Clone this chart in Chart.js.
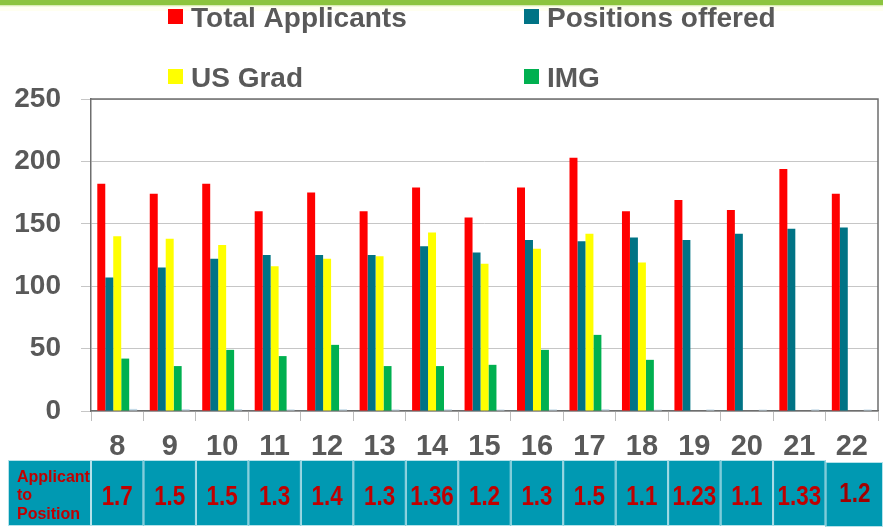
<!DOCTYPE html>
<html lang="en">
<head>
  <meta charset="UTF-8" />
  <title>Applicants vs Positions</title>
  <script src="https://cdn.jsdelivr.net/npm/chart.js"></script>
  <style>
    body {
      margin: 0;
      width: 883px;
      height: 527px;
      overflow: hidden;
      background: linear-gradient(to bottom, #8cc43e 0, #8cc43e 5px, #cde6a0 5px, #fffff0 7px, #fffff0 11px, #ffffff 11px);
    }
    canvas { display: block; }
  </style>
</head>
<body>
  <canvas id="matchChart" width="883" height="527"></canvas>

  <script>
    const categories = ['8', '9', '10', '11', '12', '13', '14', '15', '16', '17', '18', '19', '20', '21', '22'];
    const totalApplicants = [182, 174, 182, 160, 175, 160, 179, 155, 179, 203, 160, 169, 161, 194, 174];
    const positionsOffered = [107, 115, 122, 125, 125, 125, 132, 127, 137, 136, 139, 137, 142, 146, 147];
    const usGrad = [140, 138, 133, 116, 122, 124, 143, 118, 130, 142, 119, null, null, null, null];
    const img = [42, 36, 49, 44, 53, 36, 36, 37, 49, 61, 41, null, null, null, null];
    const ratio = [1.7, 1.5, 1.5, 1.3, 1.4, 1.3, 1.36, 1.2, 1.3, 1.5, 1.1, 1.23, 1.1, 1.33, 1.2];
    const ratioLabels = ['1.7', '1.5', '1.5', '1.3', '1.4', '1.3', '1.36', '1.2', '1.3', '1.5', '1.1', '1.23', '1.1', '1.33', '1.2'];
    const yTicks = [0, 50, 100, 150, 200, 250];

    const textGrey = '#595959';
    const fontFamily = '"Liberation Sans", Arial, sans-serif';

    // legend in two rows of two, drawn above the plot
    const legendPlugin = {
      id: 'gridLegend',
      afterDraw(chart) {
        const c = chart.ctx;
        const cols = [168, 524];
        const rows = [17, 77];
        let n = 0;
        chart.data.datasets.forEach(ds => {
          if (ds.inLegend === false) return;
          const x = cols[n % 2];
          const y = rows[Math.floor(n / 2)];
          c.save();
          c.fillStyle = ds.backgroundColor;
          c.fillRect(x, y - 8, 15, 15);
          c.fillStyle = textGrey;
          c.font = 'bold 28px ' + fontFamily;
          c.textBaseline = 'alphabetic';
          c.fillText(ds.label, x + 23, y + 10);
          c.restore();
          n++;
        });
      }
    };

    // border on top and right of the plot, plus the ratio table underneath
    const tablePlugin = {
      id: 'ratioTable',
      afterDraw(chart) {
        const c = chart.ctx;
        const area = chart.chartArea;
        const xs = chart.scales.x;
        c.save();
        c.strokeStyle = '#6e6e6e';
        c.lineWidth = 1.5;
        c.beginPath();
        c.moveTo(area.left, area.top);
        c.lineTo(area.right, area.top);
        c.lineTo(area.right, area.bottom);
        c.stroke();

        const top = 460, bottom = 526;
        const step = (area.right - area.left) / categories.length;
        const teal = '#0099b2';
        const edge = '#b5e2ea';

        // label cell
        c.fillStyle = teal;
        c.fillRect(8, top, area.left - 8, bottom - top);
        c.strokeStyle = edge;
        c.lineWidth = 1;
        c.strokeRect(8.5, top + 0.5, area.left - 9, bottom - top - 1);
        c.fillStyle = '#c00000';
        c.font = 'bold 16px ' + fontFamily;
        c.fillText('Applicant', 17, 482);
        c.fillText('to', 17, 500);
        c.fillText('Position', 17, 519);

        ratioLabels.forEach((txt, i) => {
          const cx = xs.getPixelForValue(i);
          const last = i === ratioLabels.length - 1;
          const left = cx - step / 2;
          const w = last ? 883 - left : step;
          const t = last ? top + 2 : top;
          const b = last ? 527 : bottom;
          c.fillStyle = teal;
          c.fillRect(left, t, w, b - t);
          c.strokeStyle = edge;
          c.strokeRect(left + 0.5, t + 0.5, w - 1, b - t - 1);
          c.save();
          c.translate(last ? cx + 3 : cx, last ? 502 : 505);
          c.scale(0.8, 1);
          c.fillStyle = last ? '#a30000' : '#c00000';
          c.font = 'bold 28px ' + fontFamily;
          c.textAlign = 'center';
          c.fillText(txt, 0, 0);
          c.restore();
        });
        c.restore();
      }
    };

    const ctx = document.getElementById('matchChart').getContext('2d');
    const matchChart = new Chart(ctx, {
      type: 'bar',
      data: {
        labels: categories,
        datasets: [
          { label: 'Total Applicants', data: totalApplicants, backgroundColor: '#ff0000' },
          { label: 'Positions offered', data: positionsOffered, backgroundColor: '#007385' },
          { label: 'US Grad', data: usGrad, backgroundColor: '#ffff00' },
          { label: 'IMG', data: img, backgroundColor: '#00b050' },
          { label: 'Applicant to Position', data: ratio, backgroundColor: '#c5dbe8', inLegend: false }
        ]
      },
      options: {
        responsive: false,
        animation: false,
        datasets: {
          bar: { categoryPercentage: 0.76, barPercentage: 1.0 }
        },
        layout: { padding: { top: 99, right: 5, left: 0, bottom: 0 } },
        plugins: {
          legend: { display: false },
          tooltip: { enabled: false }
        },
        scales: {
          x: {
            afterFit: scale => { scale.height = 116; },
            grid: { drawOnChartArea: false, color: '#bdbdbd', tickLength: 10, offset: true },
            border: { color: '#6e6e6e', width: 1.5 },
            ticks: { color: textGrey, padding: 9, font: { family: fontFamily, size: 29, weight: 'bold' } }
          },
          y: {
            min: 0,
            max: 250,
            afterFit: scale => { scale.width = 91; },
            afterBuildTicks: scale => { scale.ticks = yTicks.map(v => ({ value: v })); },
            grid: { color: '#c6c6c6', tickLength: 10 },
            border: { color: '#6e6e6e', width: 1.5 },
            ticks: { color: textGrey, padding: 20, font: { family: fontFamily, size: 28, weight: 'bold' } }
          }
        }
      },
      plugins: [legendPlugin, tablePlugin]
    });
  </script>
</body>
</html>
